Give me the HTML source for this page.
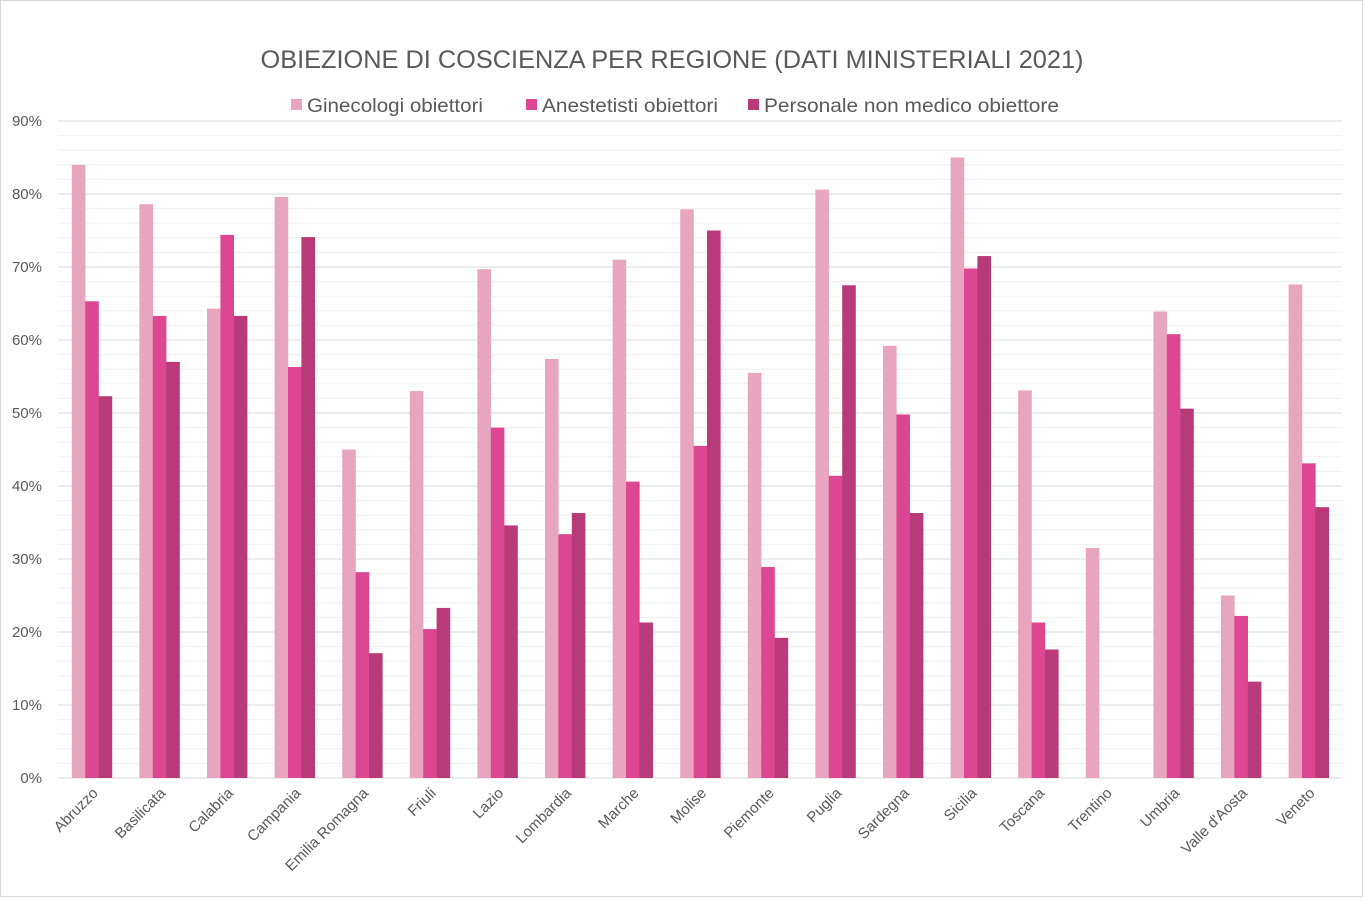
<!DOCTYPE html>
<html><head><meta charset="utf-8"><style>
html,body{margin:0;padding:0;background:#fff}
svg{display:block;font-family:"Liberation Sans",sans-serif}
</style></head><body>
<svg id="c" width="1365" height="900" viewBox="0 0 1365 900" xmlns="http://www.w3.org/2000/svg">
<rect x="0.5" y="0.5" width="1362" height="896" fill="#fff" stroke="#d9d9d9"/>
<text x="672" y="68" text-anchor="middle" font-size="25" textLength="823" lengthAdjust="spacingAndGlyphs" fill="#595959">OBIEZIONE DI COSCIENZA PER REGIONE (DATI MINISTERIALI 2021)</text>
<g font-size="19.5" fill="#595959">
<rect x="291" y="99" width="11" height="11" fill="#e8a5bf"/><text x="307" y="112" textLength="176" lengthAdjust="spacingAndGlyphs">Ginecologi obiettori</text>
<rect x="526" y="99" width="11" height="11" fill="#dd4690"/><text x="542" y="112" textLength="176" lengthAdjust="spacingAndGlyphs">Anestetisti obiettori</text>
<rect x="748" y="99" width="11" height="11" fill="#b83a78"/><text x="764" y="112" textLength="295" lengthAdjust="spacingAndGlyphs">Personale non medico obiettore</text>
</g>
<g id="g"></g>
</svg>
<script>
var g=document.getElementById('g'),s='';
var y0=778,k=7.3,x0=58,w=67.6;
for(var p=0;p<=90;p+=2){var y=y0-p*k;var maj=p%10==0;
s+='<line x1="58" x2="1342" y1="'+y+'" y2="'+y+'" stroke="'+(maj?'#d9d9d9':'#f0f0f0')+'" stroke-width="1"/>';
if(maj)s+='<text x="42" y="'+(y+5)+'" text-anchor="end" font-size="15" fill="#595959">'+p+'%</text>';}
var d=[["Abruzzo",84,65.3,52.3],["Basilicata",78.6,63.3,57],["Calabria",64.3,74.4,63.3],["Campania",79.6,56.3,74.1],["Emilia Romagna",45,28.2,17.1],["Friuli",53,20.4,23.3],["Lazio",69.7,48,34.6],["Lombardia",57.4,33.4,36.3],["Marche",71,40.6,21.3],["Molise",77.9,45.5,75],["Piemonte",55.5,28.9,19.2],["Puglia",80.6,41.4,67.5],["Sardegna",59.2,49.8,36.3],["Sicilia",85,69.8,71.5],["Toscana",53.1,21.3,17.6],["Trentino",31.5,0,0],["Umbria",63.9,60.8,50.6],["Valle d'Aosta",25,22.2,13.2],["Veneto",67.6,43.1,37.1]];
var col=['#e8a5bf','#dd4690','#b83a78'];
d.forEach(function(r,i){var c=x0+w*(i+0.5);
for(var j=0;j<3;j++){var v=r[j+1];if(!v)continue;var h=v*k;
s+='<rect x="'+(c-20+j*13.4)+'" y="'+(y0-h)+'" width="13.6" height="'+h+'" fill="'+col[j]+'"/>';}
s+='<text transform="translate('+(c+7)+',794) rotate(-45)" text-anchor="end" font-size="15" fill="#595959">'+r[0]+'</text>';});
g.innerHTML=s;
</script>
</body></html>
